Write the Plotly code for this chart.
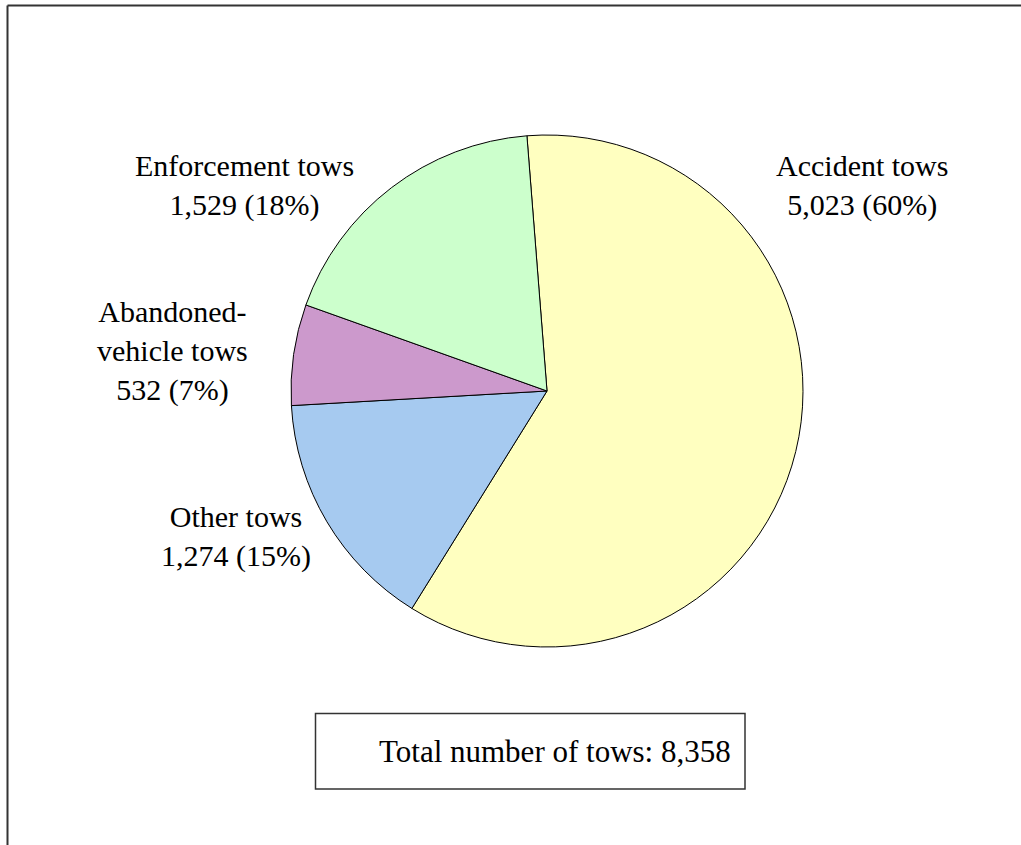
import plotly.graph_objects as go

W, H = 1021, 845

categories = ["Accident tows", "Other tows", "Abandoned-<br>vehicle tows", "Enforcement tows"]
values = [5023, 1274, 532, 1529]
percents = ["60%", "15%", "7%", "18%"]
colors = ["#FFFFC0", "#A6CAF0", "#CC99CC", "#CCFFCC"]
total_label = "Total number of tows: 8,358"

# label anchor positions in pixels (center of text block)
label_pos = [(862, 185), (236, 536), (172, 351), (244, 185)]

FONT = "Liberation Serif, Times New Roman, serif"

fig = go.Figure()
fig.add_trace(go.Pie(
    labels=[c.replace("<br>", " ") for c in categories],
    values=values,
    sort=False,
    direction="clockwise",
    rotation=-4.5,
    marker=dict(colors=colors, line=dict(color="black", width=1)),
    textinfo="none",
    hoverinfo="label+value+percent",
    showlegend=False,
    domain=dict(x=[291 / W, 803 / W], y=[1 - 647 / H, 1 - 135 / H]),
))

for cat, v, p, (px, py) in zip(categories, values, percents, label_pos):
    fig.add_annotation(
        x=px / W, y=1 - py / H, xref="paper", yref="paper",
        text=f"{cat}<br>{v:,} ({p})",
        showarrow=False, xanchor="center", yanchor="middle",
        align="center",
        font=dict(family=FONT, size=30, color="black"),
    )

# total box
fig.add_shape(type="rect", xref="paper", yref="paper",
              x0=315.5 / W, x1=745 / W, y0=1 - 789 / H, y1=1 - 713.5 / H,
              line=dict(color="#333333", width=1.5), fillcolor="white", layer="below")
fig.add_annotation(
    x=555 / W, y=1 - 751 / H, xref="paper", yref="paper",
    text=total_label, showarrow=False, xanchor="center", yanchor="middle",
    font=dict(family=FONT, size=31, color="black"),
)

# outer frame: only top and left edges are visible in the picture
fx, fy = 7.5 / W, 1 - 5.5 / H
fig.add_shape(type="line", xref="paper", yref="paper",
              x0=fx, x1=1.0, y0=fy, y1=fy,
              line=dict(color="#333333", width=2), layer="below")
fig.add_shape(type="line", xref="paper", yref="paper",
              x0=fx, x1=fx, y0=0.0, y1=fy,
              line=dict(color="#333333", width=2), layer="below")

fig.update_layout(
    width=W, height=H,
    margin=dict(l=0, r=0, t=0, b=0),
    paper_bgcolor="white",
    plot_bgcolor="white",
    font=dict(family=FONT),
)

fig.write_html("out.html", config={"displayModeBar": False},
               post_script="document.body.style.margin='0';")
